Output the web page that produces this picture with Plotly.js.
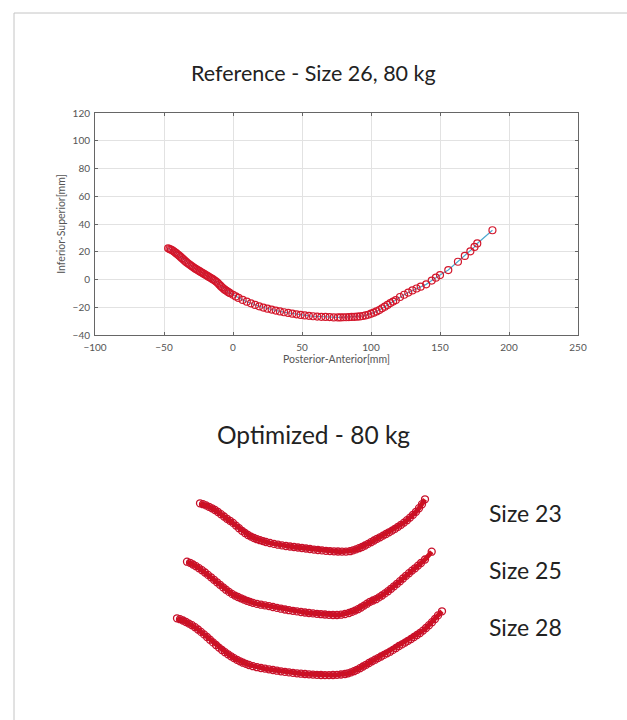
<!DOCTYPE html>
<html>
<head>
<meta charset="utf-8">
<script src="https://cdn.plot.ly/plotly-3.0.1.min.js"></script>
<style>
html,body{margin:0;padding:0;background:#fff;}
#chart{width:627px;height:720px;}
</style>
</head>
<body>
<div id="chart"></div>
<script>
// Reference - Size 26, 80 kg (Posterior-Anterior vs Inferior-Superior, mm)
const refX = [-47,-46,-45,-44,-43,-42,-41,-40,-39,-38,-37,-36,-35,-34,-33,-32,-31,-30,-29,-28,-27,-26,-25,-24,-23,-22,-21,-20,-19,-18,-17,-16,-15,-14,-13,-12,-11,-10,-9,-8,-7,-6,-5,-4,-3,-2,0,2,4,7,10,13,16,19,22,25,28,31,34,37,40,43,46,49,52,55,58,61,64,67,70,73,76,78,80,82,84,86,88,90,92,94,96,98,100,102,104,106,108,110,112,114,116,118,121,124,127,130,133,136,140,144,147,150,156,163,168,172,175,177,188];
const refY = [22.5,22,21.5,21,20.3,19.6,18.8,18,17.2,16.3,15.4,14.5,13.6,12.7,11.9,11.1,10.4,9.7,9,8.3,7.6,7,6.4,5.8,5.2,4.6,4,3.4,2.8,2.2,1.6,1,0.4,-0.2,-0.9,-1.7,-2.6,-3.6,-4.6,-5.6,-6.5,-7.3,-8,-8.7,-9.3,-9.9,-11,-12.2,-13.3,-14.7,-16,-17.2,-18.3,-19.3,-20.2,-21,-21.7,-22.4,-23,-23.6,-24.1,-24.6,-25.1,-25.5,-25.9,-26.2,-26.5,-26.7,-26.9,-27,-27.1,-27.3,-27.3,-27.3,-27.2,-27.2,-27.1,-27,-26.9,-26.8,-26.6,-26.3,-25.9,-25.4,-24.6,-23.9,-23,-22,-20.8,-19.6,-18.3,-17,-15.9,-14.8,-12.6,-11,-9.4,-7.9,-6.5,-5.2,-3.5,-0.8,1.3,3.2,6.8,12.8,17,20.3,23.5,26,35.5];

// Optimized - 80 kg (stacked display, mm)
const s23X = [-45,-42,-39,-36,-33,-30,-27,-24,-21,-18,-15,-12,-9,-6,-3,0,3,6,9,12,15,18,21,25,29,33,37,41,45,49,53,57,61,65,69,73,77,81,85,89,93,97,101,105,108,111,114,117,120,123,126,129,132,135,138,141,144,147,150,153,156,159,162,165,168,171,174,177,180];
const s23Y = [19.7,18.8,17.6,16.2,14.7,13,11,8.8,6.5,4.2,2.2,0.1,-2.6,-5.2,-7.8,-10,-12,-13.6,-15,-16.2,-17.2,-18.1,-19,-20,-20.9,-21.7,-22.4,-23,-23.5,-24,-24.5,-25,-25.5,-26,-26.6,-27,-27.4,-27.8,-28.1,-28.3,-28.5,-28.6,-28.6,-28.2,-27.4,-26.4,-25.2,-24,-22.5,-20.9,-19.2,-17.5,-15.8,-14.3,-12.6,-11,-9.3,-7.6,-5.8,-3.8,-1.8,0.4,2.8,5.4,8.2,11.2,14.8,18.8,23.7];

const s25X = [-58,-55,-52,-49,-46,-43,-40,-37,-34,-31,-28,-25,-22,-19,-16,-13,-10,-7,-4,-1,2,5,8,12,16,20,24,28,32,36,40,44,48,52,56,60,64,68,72,76,80,84,88,92,96,100,104,107,110,113,116,119,122,125,128,131,134,137,140,143,146,149,152,155,158,161,164,167,170,173,176,180,186.7];
const s25Y = [-38.7,-39.8,-41.5,-43.2,-45.2,-47.2,-49.5,-51.9,-54.3,-56.8,-59.3,-61.8,-64.3,-66.7,-68.9,-70.9,-72.6,-74,-75.3,-76.6,-77.8,-78.9,-79.9,-80.9,-81.7,-82.4,-83.1,-84,-84.9,-85.7,-86.5,-87.2,-87.8,-88.4,-89,-89.5,-90,-90.4,-90.8,-91.2,-91.5,-91.8,-92,-92,-91.7,-91,-90,-88.9,-87.6,-86.2,-84.5,-82.6,-80.7,-78.8,-77.5,-76.2,-74.4,-72.5,-70.4,-68.2,-65.8,-63.3,-60.8,-58.2,-55.5,-52.8,-50.2,-47.6,-45.3,-42.6,-40,-36.5,-28.7];

const s28X = [-68,-65,-62,-59,-56,-53,-50,-47,-44,-41,-38,-35,-32,-29,-26,-23,-20,-17,-14,-11,-8,-5,-2,1,4,8,12,16,20,24,28,32,36,40,44,48,52,56,60,64,68,72,76,80,84,88,92,96,100,103,106,109,112,115,118,121,124,127,130,133,136,139,142,145,148,151,154,157,160,163,166,169,172,175,178,181,184,187,190,193,197];
const s28Y = [-95.3,-96.2,-97.5,-99,-100.6,-102.2,-104.2,-106.5,-108.9,-111.4,-114,-116.7,-119.4,-122,-124.6,-127,-129.2,-131.3,-133.3,-135.1,-136.8,-138.3,-139.7,-140.9,-142,-143.2,-144.2,-145,-145.6,-146.3,-147,-147.7,-148.3,-148.9,-149.4,-149.9,-150.3,-150.7,-151,-151.3,-151.6,-151.8,-152,-152.1,-152.1,-152,-151.8,-151.5,-151,-150.3,-149.4,-148.2,-146.8,-145.2,-143.5,-141.8,-140,-138.3,-136.7,-135.1,-133.5,-131.9,-130.3,-128.7,-126.9,-125,-123,-121.4,-119.6,-117.8,-116,-114,-112,-110,-107.6,-105,-102.2,-99.2,-96,-92.4,-88.3];

const sizeLabels = ['Size 23', 'Size 25', 'Size 28'];
const titleTop = 'Reference - Size 26, 80 kg';
const titleBottom = 'Optimized - 80 kg';

const W = 627, H = 720;
const px = v => v / W;
const py = v => 1 - v / H;
const red = '#d3162b';

const traces = [
  {x: refX, y: refY, xaxis: 'x', yaxis: 'y', type: 'scatter', mode: 'lines+markers',
   line: {color: '#4fa9cf', width: 1.2},
   marker: {symbol: 'circle-open', size: 7, color: red, line: {width: 1.2, color: red}},
   hoverinfo: 'skip'}
];
[[s23X, s23Y], [s25X, s25Y], [s28X, s28Y]].forEach(([xs, ys]) => {
  traces.push({x: xs, y: ys, xaxis: 'x2', yaxis: 'y2', type: 'scatter', mode: 'lines+markers',
    line: {color: '#d0121f', width: 4.8},
    marker: {symbol: 'circle-open', size: 7, color: '#c8102a', line: {width: 1.3, color: '#c8102a'}},
    hoverinfo: 'skip'});
});

const font = 'Lato, "Open Sans", "Noto Sans", sans-serif';
const axFont = {family: font, size: 10, color: '#555'};
const layout = {
  width: W, height: H,
  margin: {l: 0, r: 0, t: 0, b: 0},
  paper_bgcolor: '#fff', plot_bgcolor: '#fff',
  showlegend: false,
  xaxis: {
    domain: [px(95), px(578)], range: [-100, 250], dtick: 50, anchor: 'y',
    showgrid: true, gridcolor: '#e2e2e2', gridwidth: 1, zeroline: false,
    showline: true, linecolor: '#666', linewidth: 1, mirror: 'ticks',
    ticks: 'inside', ticklen: 3, tickcolor: '#666',
    ticklabelstandoff: 3,
    tickfont: axFont,
    title: {text: 'Posterior-Anterior[mm]', font: {family: font, size: 10.5, color: '#555'}, standoff: 2}
  },
  yaxis: {
    domain: [py(335), py(113)], range: [-40, 120], dtick: 20, anchor: 'x',
    showgrid: true, gridcolor: '#e2e2e2', gridwidth: 1, zeroline: false,
    showline: true, linecolor: '#666', linewidth: 1, mirror: 'ticks',
    ticks: 'inside', ticklen: 3, tickcolor: '#666',
    ticklabelstandoff: 2,
    tickfont: axFont,
    title: {text: 'Inferior-Superior[mm]', font: {family: font, size: 10.5, color: '#555'}, standoff: 4}
  },
  xaxis2: {domain: [px(150), px(470)], range: [-95, 225], anchor: 'y2', visible: false},
  yaxis2: {domain: [py(700), py(480)], range: [-177, 43], anchor: 'x2', visible: false},
  annotations: [
    {text: titleTop, xref: 'paper', yref: 'paper', x: px(313), y: py(73), xanchor: 'center', yanchor: 'middle',
     showarrow: false, font: {family: font, size: 21.5, color: '#222'}},
    {text: titleBottom, xref: 'paper', yref: 'paper', x: px(313), y: py(434), xanchor: 'center', yanchor: 'middle',
     showarrow: false, font: {family: font, size: 24.5, color: '#222'}},
    {text: sizeLabels[0], xref: 'paper', yref: 'paper', x: px(525), y: py(513), xanchor: 'center', yanchor: 'middle',
     showarrow: false, font: {family: font, size: 23, color: '#222'}},
    {text: sizeLabels[1], xref: 'paper', yref: 'paper', x: px(525), y: py(570), xanchor: 'center', yanchor: 'middle',
     showarrow: false, font: {family: font, size: 23, color: '#222'}},
    {text: sizeLabels[2], xref: 'paper', yref: 'paper', x: px(525), y: py(627), xanchor: 'center', yanchor: 'middle',
     showarrow: false, font: {family: font, size: 23, color: '#222'}}
  ],
  shapes: [
    {type: 'line', xref: 'paper', yref: 'paper', x0: px(14), x1: 1, y0: py(13), y1: py(13), line: {color: '#c4c4c4', width: 1}},
    {type: 'line', xref: 'paper', yref: 'paper', x0: px(14), x1: px(14), y0: py(13), y1: 0, line: {color: '#c4c4c4', width: 1}}
  ]
};

Plotly.newPlot('chart', traces, layout, {staticPlot: true, displayModeBar: false});
</script>
</body>
</html>
